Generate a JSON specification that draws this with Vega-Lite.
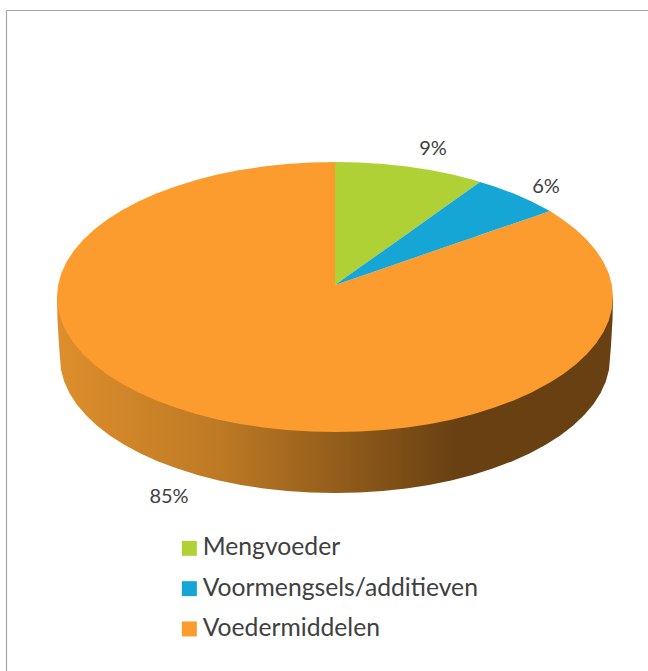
{"$schema":"https://vega.github.io/schema/vega-lite/v6.json","width":648,"height":671,"padding":0,"autosize":"none","background":"white","config":{"view":{"stroke":null},"font":"Lato"},
"layer":[
{"data":{"values":[{"x":6.5,"y":10.5,"x2":6.5,"y2":671},{"x":6.5,"y":10.5,"x2":648,"y2":10.5}]},"mark":{"type":"rule","color":"#a6a6a6","strokeWidth":1.2},"encoding":{"x":{"field":"x","type":"quantitative","scale":{"domain":[0,648],"nice":false,"zero":false},"axis":null},"y":{"field":"y","type":"quantitative","scale":{"domain":[0,671],"reverse":true,"nice":false,"zero":false},"axis":null},"x2":{"field":"x2"},"y2":{"field":"y2"}}},
{"data":{"values":[{"x":57,"y":297,"y2":297},{"x":57.5,"y":297,"y2":320},{"x":59,"y":297,"y2":345},{"x":60,"y":297,"y2":358},{"x":61,"y":297,"y2":369.8},{"x":64.2,"y":297,"y2":381.4},{"x":69.4,"y":297,"y2":392.9},{"x":76.6,"y":297,"y2":404.2},{"x":85.8,"y":297,"y2":415.1},{"x":96.8,"y":297,"y2":425.5},{"x":109.7,"y":297,"y2":435.4},{"x":124.3,"y":297,"y2":444.8},{"x":140.5,"y":297,"y2":453.5},{"x":158.2,"y":297,"y2":461.4},{"x":177.3,"y":297,"y2":468.6},{"x":197.5,"y":297,"y2":474.9},{"x":218.8,"y":297,"y2":480.4},{"x":240.9,"y":297,"y2":484.9},{"x":263.8,"y":297,"y2":488.4},{"x":287.2,"y":297,"y2":490.9},{"x":311,"y":297,"y2":492.5},{"x":335,"y":297,"y2":493},{"x":359,"y":297,"y2":492.5},{"x":382.8,"y":297,"y2":490.9},{"x":406.2,"y":297,"y2":488.4},{"x":429.1,"y":297,"y2":484.9},{"x":451.2,"y":297,"y2":480.4},{"x":472.5,"y":297,"y2":474.9},{"x":492.7,"y":297,"y2":468.6},{"x":511.8,"y":297,"y2":461.4},{"x":529.5,"y":297,"y2":453.5},{"x":545.7,"y":297,"y2":444.8},{"x":560.3,"y":297,"y2":435.4},{"x":573.2,"y":297,"y2":425.5},{"x":584.2,"y":297,"y2":415.1},{"x":593.4,"y":297,"y2":404.2},{"x":600.6,"y":297,"y2":392.9},{"x":605.8,"y":297,"y2":381.4},{"x":609,"y":297,"y2":369.8},{"x":610,"y":297,"y2":358},{"x":611,"y":297,"y2":345},{"x":612.5,"y":297,"y2":320},{"x":613,"y":297,"y2":297}]},
"mark":{"type":"area","color":{"gradient":"linear","x1":0,"y1":0,"x2":1,"y2":0,"stops":[{"offset":0,"color":"#DE8E2C"},{"offset":0.3,"color":"#BC7924"},{"offset":0.72,"color":"#684012"},{"offset":1,"color":"#684012"}]}},
"encoding":{"x":{"field":"x","type":"quantitative","axis":null},"y":{"field":"y","type":"quantitative","axis":null},"y2":{"field":"y2"}}},
{"data":{"values":[
{"slice":"Voedermiddelen","part":"left","x":57,"y":297,"y2":297},{"slice":"Voedermiddelen","part":"left","x":58.1,"y":285.2,"y2":308.8},{"slice":"Voedermiddelen","part":"left","x":61.2,"y":273.6,"y2":320.4},{"slice":"Voedermiddelen","part":"left","x":66.5,"y":262.1,"y2":331.9},{"slice":"Voedermiddelen","part":"left","x":73.8,"y":250.8,"y2":343.2},{"slice":"Voedermiddelen","part":"left","x":83,"y":239.9,"y2":354.1},{"slice":"Voedermiddelen","part":"left","x":94.2,"y":229.5,"y2":364.5},{"slice":"Voedermiddelen","part":"left","x":107.3,"y":219.6,"y2":374.4},{"slice":"Voedermiddelen","part":"left","x":122,"y":210.2,"y2":383.8},{"slice":"Voedermiddelen","part":"left","x":138.4,"y":201.6,"y2":392.4},{"slice":"Voedermiddelen","part":"left","x":156.3,"y":193.6,"y2":400.4},{"slice":"Voedermiddelen","part":"left","x":175.5,"y":186.4,"y2":407.6},{"slice":"Voedermiddelen","part":"left","x":196,"y":180.1,"y2":413.9},{"slice":"Voedermiddelen","part":"left","x":217.5,"y":174.6,"y2":419.4},{"slice":"Voedermiddelen","part":"left","x":239.9,"y":170.1,"y2":423.9},{"slice":"Voedermiddelen","part":"left","x":263,"y":166.6,"y2":427.4},{"slice":"Voedermiddelen","part":"left","x":286.7,"y":164.1,"y2":429.9},{"slice":"Voedermiddelen","part":"left","x":310.8,"y":162.5,"y2":431.5},{"slice":"Voedermiddelen","part":"left","x":335,"y":162,"y2":432},
{"slice":"Voedermiddelen","part":"right","x":335,"y":285,"y2":432},{"slice":"Voedermiddelen","part":"right","x":359.2,"y":276.7,"y2":431.5},{"slice":"Voedermiddelen","part":"right","x":383.3,"y":268.4,"y2":429.9},{"slice":"Voedermiddelen","part":"right","x":407,"y":260.2,"y2":427.4},{"slice":"Voedermiddelen","part":"right","x":430.1,"y":252.3,"y2":423.9},{"slice":"Voedermiddelen","part":"right","x":452.5,"y":244.6,"y2":419.4},{"slice":"Voedermiddelen","part":"right","x":474,"y":237.2,"y2":413.9},{"slice":"Voedermiddelen","part":"right","x":494.5,"y":230.1,"y2":407.6},{"slice":"Voedermiddelen","part":"right","x":513.7,"y":223.5,"y2":400.4},{"slice":"Voedermiddelen","part":"right","x":531.6,"y":217.4,"y2":392.5},{"slice":"Voedermiddelen","part":"right","x":550,"y":211,"y2":382.6},{"slice":"Voedermiddelen","part":"right","x":562.7,"y":219.6,"y2":374.4},{"slice":"Voedermiddelen","part":"right","x":575.8,"y":229.5,"y2":364.5},{"slice":"Voedermiddelen","part":"right","x":587,"y":239.9,"y2":354.1},{"slice":"Voedermiddelen","part":"right","x":596.2,"y":250.8,"y2":343.2},{"slice":"Voedermiddelen","part":"right","x":603.5,"y":262.1,"y2":331.9},{"slice":"Voedermiddelen","part":"right","x":608.8,"y":273.6,"y2":320.4},{"slice":"Voedermiddelen","part":"right","x":611.9,"y":285.2,"y2":308.8},{"slice":"Voedermiddelen","part":"right","x":613,"y":297,"y2":297},
{"slice":"Mengvoeder","part":"m","x":335,"y":162,"y2":285},{"slice":"Mengvoeder","part":"m","x":359.2,"y":162.5,"y2":267.8},{"slice":"Mengvoeder","part":"m","x":383.3,"y":164.1,"y2":250.7},{"slice":"Mengvoeder","part":"m","x":407,"y":166.6,"y2":233.9},{"slice":"Mengvoeder","part":"m","x":430.1,"y":170.1,"y2":217.5},{"slice":"Mengvoeder","part":"m","x":452.5,"y":174.6,"y2":201.5},{"slice":"Mengvoeder","part":"m","x":474,"y":180.1,"y2":186.3},{"slice":"Mengvoeder","part":"m","x":480,"y":182,"y2":182},
{"slice":"Voormengsels/additieven","part":"v","x":335,"y":285,"y2":285},{"slice":"Voormengsels/additieven","part":"v","x":359.2,"y":267.8,"y2":276.7},{"slice":"Voormengsels/additieven","part":"v","x":383.3,"y":250.7,"y2":268.4},{"slice":"Voormengsels/additieven","part":"v","x":407,"y":233.9,"y2":260.2},{"slice":"Voormengsels/additieven","part":"v","x":430.1,"y":217.5,"y2":252.3},{"slice":"Voormengsels/additieven","part":"v","x":452.5,"y":201.5,"y2":244.6},{"slice":"Voormengsels/additieven","part":"v","x":474,"y":186.3,"y2":237.2},{"slice":"Voormengsels/additieven","part":"v","x":480,"y":182,"y2":235.1},{"slice":"Voormengsels/additieven","part":"v","x":494.5,"y":186.4,"y2":230.1},{"slice":"Voormengsels/additieven","part":"v","x":513.7,"y":193.6,"y2":223.5},{"slice":"Voormengsels/additieven","part":"v","x":531.6,"y":201.5,"y2":217.4},{"slice":"Voormengsels/additieven","part":"v","x":550,"y":211,"y2":211}
]},
"mark":{"type":"area"},
"encoding":{"x":{"field":"x","type":"quantitative","axis":null},"y":{"field":"y","type":"quantitative","axis":null},"y2":{"field":"y2"},"detail":{"field":"part"},
"color":{"field":"slice","type":"nominal","scale":{"domain":["Mengvoeder","Voormengsels/additieven","Voedermiddelen"],"range":["#B0D136","#15A6D5","#FC9C2E"]},"legend":{"title":null,"orient":"none","legendX":177,"legendY":536,"symbolType":"square","symbolSize":225,"symbolStrokeWidth":0,"labelFontSize":24.7,"labelFont":"Lato","labelColor":"#404040","labelOffset":1,"rowPadding":14.3,"padding":0,"labelLimit":400}}}},
{"data":{"values":[{"label":"9%","x":433,"y":149},{"label":"6%","x":546,"y":187},{"label":"85%","x":169,"y":497}]},
"mark":{"type":"text","fontSize":20,"font":"Lato","color":"#404040","align":"center","baseline":"middle"},
"encoding":{"x":{"field":"x","type":"quantitative","axis":null},"y":{"field":"y","type":"quantitative","axis":null},"text":{"field":"label"}}}
]}
